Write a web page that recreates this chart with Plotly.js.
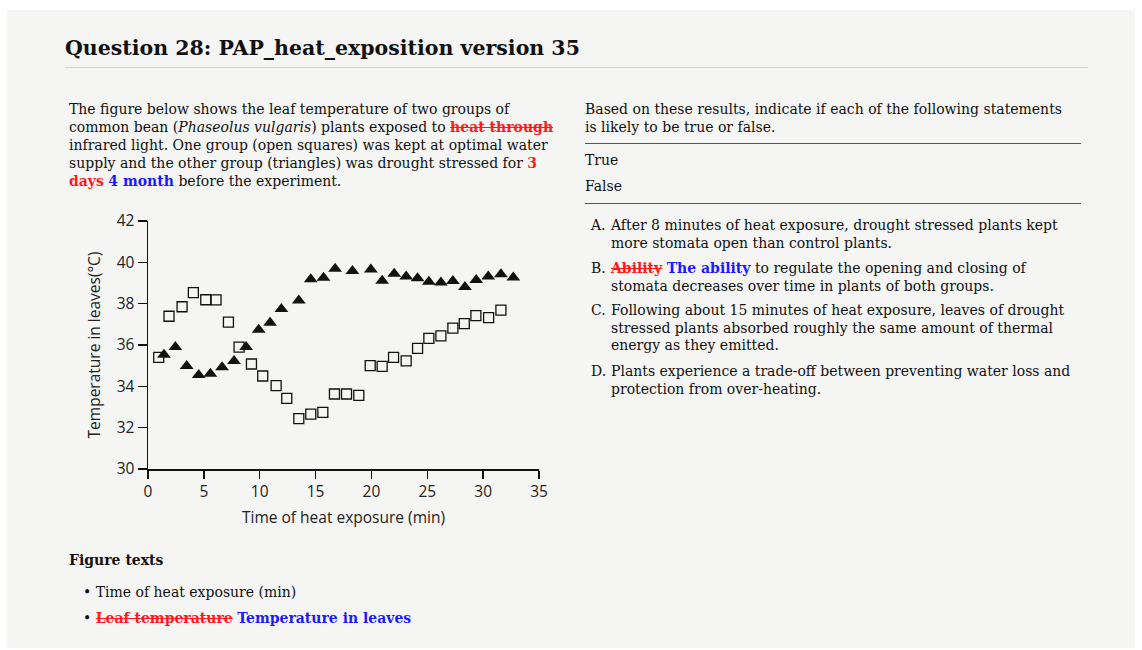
<!DOCTYPE html>
<html><head><meta charset="utf-8">
<script src="https://cdn.plot.ly/plotly-3.0.1.min.js"></script>
<style>
html,body{margin:0;padding:0;background:#ffffff;}
#page{position:absolute;left:7px;top:10px;width:1128px;height:638px;background:#f5f5f4;}
.t{position:absolute;font-family:"DejaVu Serif",serif;color:#111;white-space:nowrap;}
#title{left:65px;top:36px;font-size:20.5px;font-weight:bold;}
#hr1{position:absolute;left:65px;top:67px;width:1023px;height:1px;background:#cfcfcf;}
.p{font-size:14px;line-height:18px;}
.red{color:#ff1a1a;font-weight:bold;}
.del{text-decoration:line-through;}
.blue{color:#1a1aff;font-weight:bold;}
.hr2{position:absolute;left:585px;width:496px;height:1px;background:#555;}
.li{position:absolute;font-family:"DejaVu Serif",serif;font-size:14px;line-height:17.5px;color:#111;white-space:nowrap;}
.li .k{position:absolute;left:0;}
.li .v{position:absolute;left:20px;}
#chart{position:absolute;left:60px;top:205px;width:500px;height:330px;}
</style></head><body>
<div id="page"></div>
<div class="t" id="title">Question 28: PAP_heat_exposition version 35</div>
<div id="hr1"></div>
<div class="t p" style="left:69px;top:100px;">The figure below shows the leaf temperature of two groups of<br>common bean (<i>Phaseolus vulgaris</i>) plants exposed to <span class="red del">heat through</span><br>infrared light. One group (open squares) was kept at optimal water<br>supply and the other group (triangles) was drought stressed for <span class="red">3</span><br><span class="red">days</span> <span class="blue">4 month</span> before the experiment.</div>
<div class="t p" style="left:585px;top:100px;">Based on these results, indicate if each of the following statements<br>is likely to be true or false.</div>
<div class="hr2" style="top:143px;"></div>
<div class="t p" style="left:585px;top:151px;">True</div>
<div class="t p" style="left:585px;top:177px;">False</div>
<div class="hr2" style="top:203px;"></div>
<div class="li" style="left:591px;top:217px;"><span class="k">A.</span><span class="v">After 8 minutes of heat exposure, drought stressed plants kept<br>more stomata open than control plants.</span></div>
<div class="li" style="left:591px;top:260px;"><span class="k">B.</span><span class="v"><span class="red del">Ability</span> <span class="blue">The ability</span> to regulate the opening and closing of<br>stomata decreases over time in plants of both groups.</span></div>
<div class="li" style="left:591px;top:302px;"><span class="k">C.</span><span class="v">Following about 15 minutes of heat exposure, leaves of drought<br>stressed plants absorbed roughly the same amount of thermal<br>energy as they emitted.</span></div>
<div class="li" style="left:591px;top:363px;"><span class="k">D.</span><span class="v">Plants experience a trade-off between preventing water loss and<br>protection from over-heating.</span></div>
<div class="t" style="left:69px;top:552px;font-size:14px;font-weight:bold;">Figure texts</div>
<div class="t p" style="left:83px;top:583px;">&#8226; Time of heat exposure (min)</div>
<div class="t p" style="left:83px;top:609px;">&#8226; <span class="red del">Leaf temperature</span> <span class="blue">Temperature in leaves</span></div>
<div id="chart"></div>
<script>
const controlTime = [0.96,1.88,3.05,4.06,5.17,6.09,7.20,8.15,9.26,10.27,11.47,12.42,13.50,14.57,15.65,16.69,17.77,18.87,19.89,20.96,21.98,23.11,24.13,25.14,26.22,27.29,28.31,29.35,30.49,31.59];
const controlTemp = [35.40,37.39,37.85,38.53,38.19,38.18,37.11,35.90,35.08,34.50,34.03,33.42,32.44,32.66,32.74,33.63,33.63,33.56,35.00,34.97,35.40,35.23,35.84,36.32,36.44,36.82,37.03,37.42,37.32,37.69];
const droughtTime = [1.43,2.45,3.46,4.54,5.58,6.63,7.70,8.78,9.91,10.93,11.94,13.50,14.57,15.71,16.75,18.30,19.95,20.96,22.04,23.11,24.13,25.14,26.22,27.29,28.37,29.38,30.46,31.59,32.70];
const droughtTemp = [35.53,35.90,34.98,34.55,34.61,34.92,35.23,35.90,36.74,37.08,37.74,38.15,39.18,39.26,39.69,39.58,39.65,39.11,39.45,39.31,39.23,39.06,39.02,39.10,38.81,39.15,39.32,39.42,39.27];
const xTicks = [0,5,10,15,20,25,30,35];
const yTicks = [30,32,34,36,38,40,42];
const xTitle = "Time of heat exposure (min)";
const yTitle = "Temperature in leaves(°C)";

const font = {family:'"Open Sans", "DejaVu Sans", sans-serif', size:15.5, color:'#222'};
const traces = [
  {x:controlTime, y:controlTemp, type:'scatter', mode:'markers', name:'Control',
   marker:{symbol:'square-open', size:10, color:'#111', line:{width:1.3, color:'#111'}}},
  {x:droughtTime, y:droughtTemp, type:'scatter', mode:'markers', name:'Drought',
   marker:{symbol:'triangle-up', size:12, color:'#111'}}
];
const layout = {
  width:500, height:330,
  margin:{l:88.3, r:21, t:15.7, b:66.3},
  paper_bgcolor:'rgba(0,0,0,0)', plot_bgcolor:'rgba(0,0,0,0)',
  showlegend:false, font:font,
  xaxis:{range:[0,35], tickvals:xTicks, ticks:'outside', ticklen:8, tickwidth:1.5, tickcolor:'#111',
    showline:true, linecolor:'#111', linewidth:1.5, showgrid:false, zeroline:false,
    title:{text:xTitle, font:font, standoff:11}, tickfont:font},
  yaxis:{range:[30,42], tickvals:yTicks, ticks:'outside', ticklen:9, tickwidth:1.5, tickcolor:'#111',
    showline:true, linecolor:'#111', linewidth:1.5, showgrid:false, zeroline:false,
    title:{text:yTitle, font:font, standoff:12}, tickfont:font}
};
Plotly.newPlot('chart', traces, layout, {displayModeBar:false, staticPlot:true});
</script>
</body></html>
